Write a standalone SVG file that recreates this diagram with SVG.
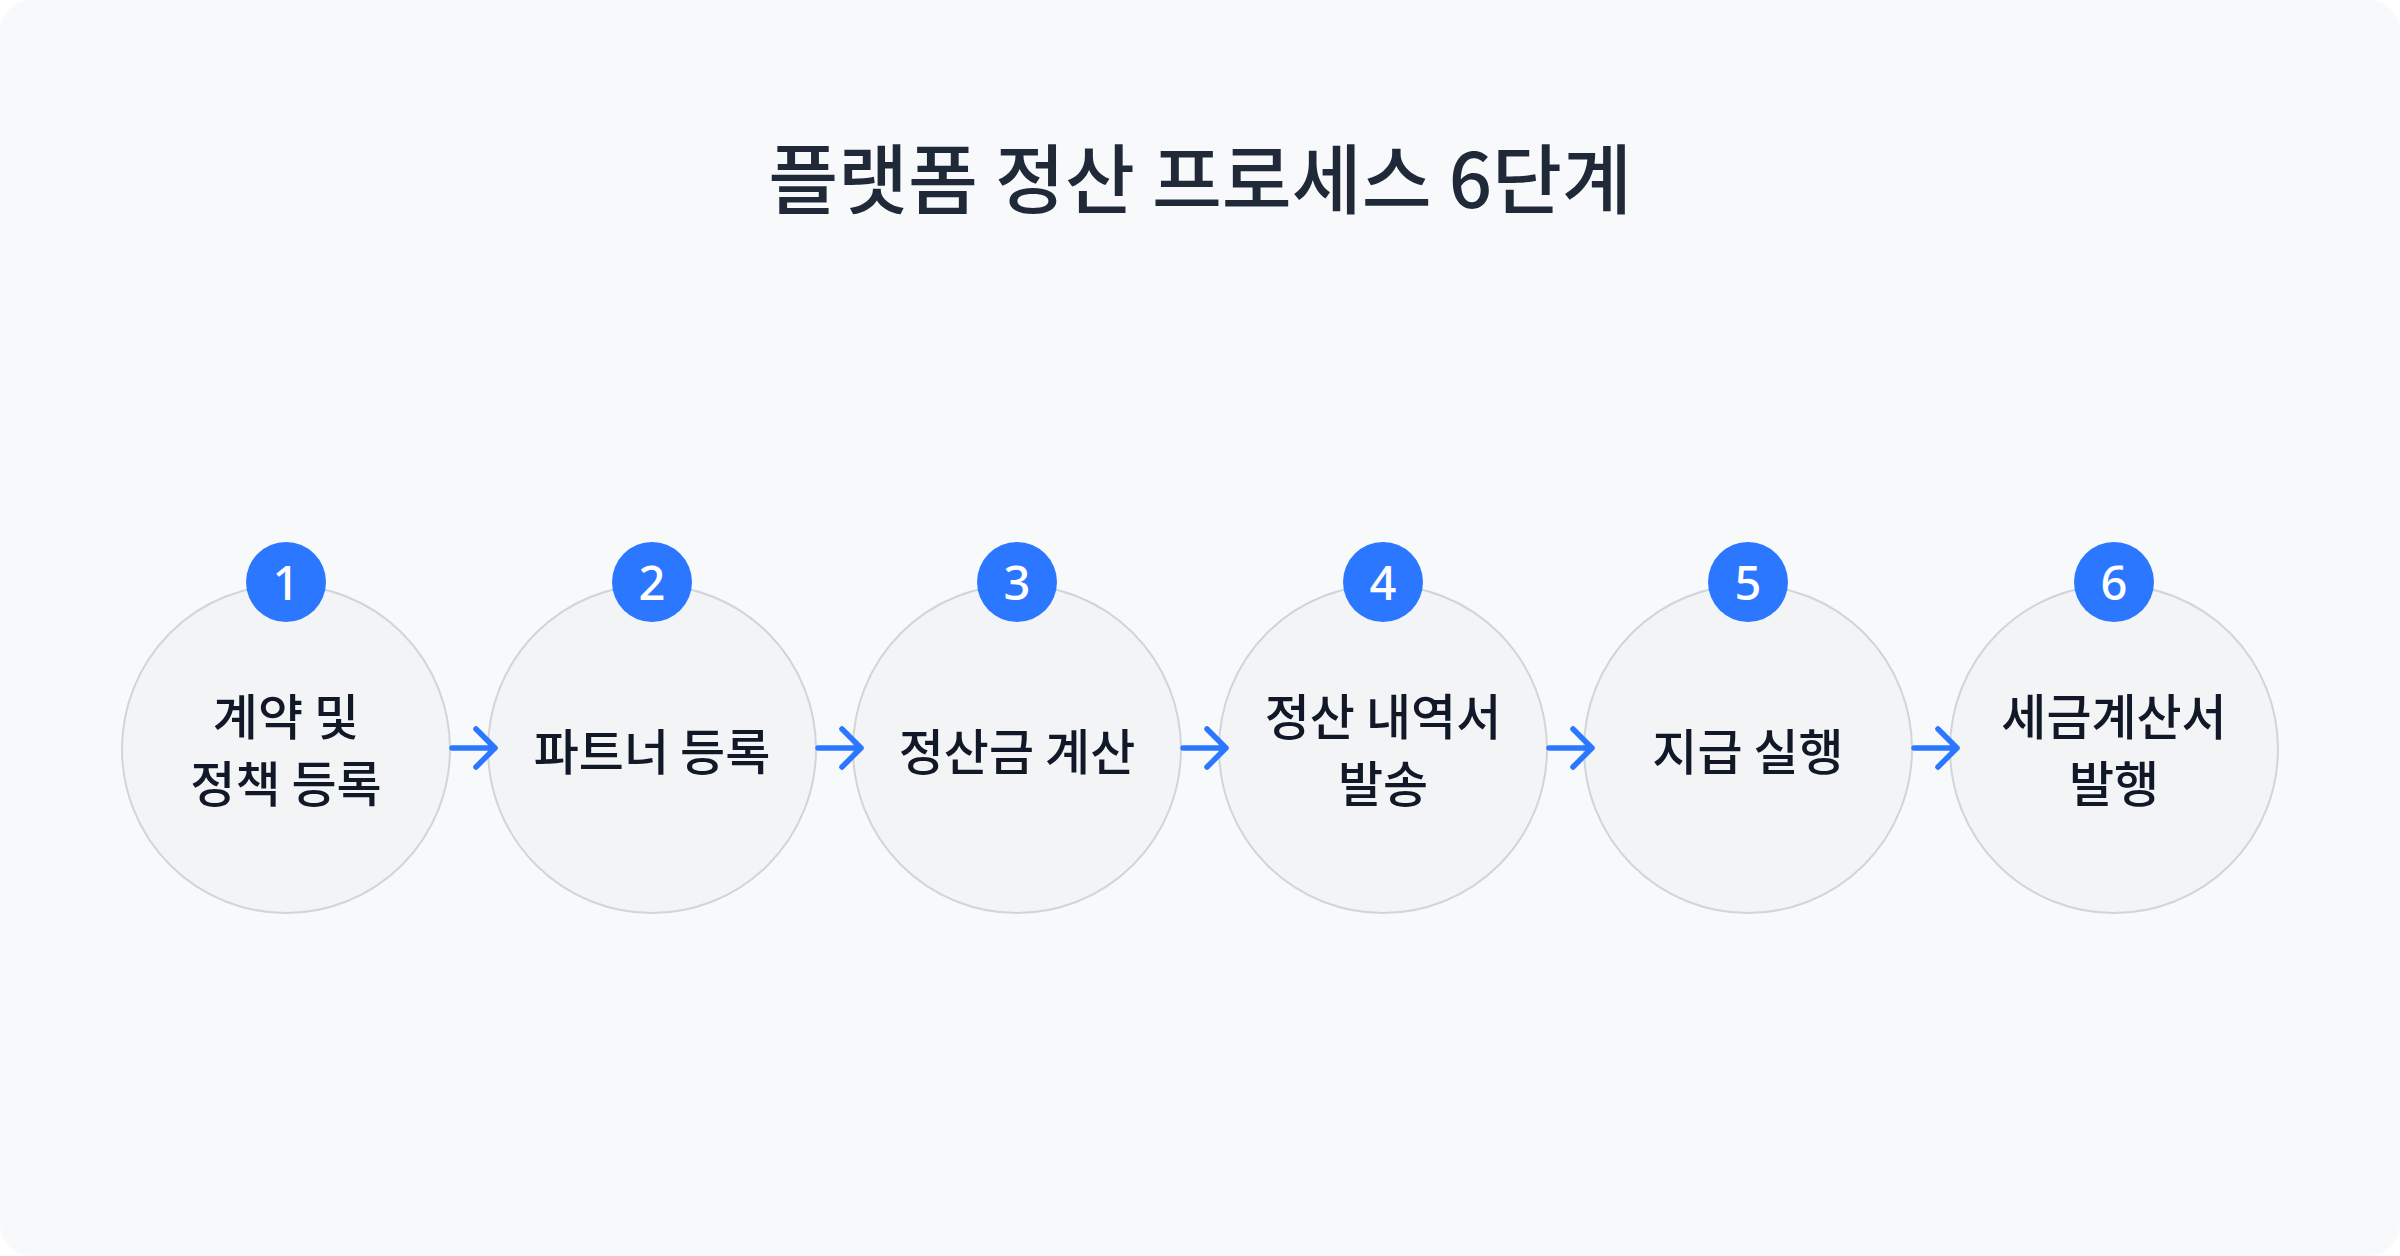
<svg xmlns="http://www.w3.org/2000/svg" width="2400" height="1256" viewBox="0 0 2400 1256">
<style>
.bg{fill:#f8f9fb}
.node{fill:#f3f4f6;stroke:#d1d5db;stroke-width:2}
.badge{fill:#2b77ff}
.bt{font-family:"Noto Sans","Noto Sans CJK KR",sans-serif;font-size:47px;font-weight:500;fill:#ffffff;text-anchor:middle;dominant-baseline:central}
.lbl{font-family:"Noto Sans CJK KR",sans-serif;font-size:49px;font-weight:500;fill:#111827;text-anchor:middle;dominant-baseline:central}
.title{font-family:"Noto Sans CJK KR",sans-serif;font-size:76px;font-weight:500;fill:#1f2937;text-anchor:middle;dominant-baseline:central}
.conn{fill:none;stroke:#2b77ff;stroke-width:5.5;stroke-linecap:round;stroke-linejoin:round}
</style>
<rect x="0" y="0" width="2400" height="1256" fill="#ffffff"/>
<rect class="bg" x="0" y="0" width="2400" height="1256" rx="32"/>
<text class="title" x="1200" y="175">플랫폼 정산 프로세스 6단계</text>
<g id="step1">
<circle class="node" cx="286" cy="749" r="164"/>
<circle class="badge" cx="286" cy="582" r="40"/>
<text class="bt" x="286" y="582">1</text>
<text class="lbl" x="286" y="713">계약 및</text>
<text class="lbl" x="286" y="780">정책 등록</text>
</g>
<g id="step2">
<circle class="node" cx="652" cy="749" r="164"/>
<circle class="badge" cx="652" cy="582" r="40"/>
<text class="bt" x="652" y="582">2</text>
<text class="lbl" x="652" y="748">파트너 등록</text>
</g>
<g id="step3">
<circle class="node" cx="1017" cy="749" r="164"/>
<circle class="badge" cx="1017" cy="582" r="40"/>
<text class="bt" x="1017" y="582">3</text>
<text class="lbl" x="1017" y="748">정산금 계산</text>
</g>
<g id="step4">
<circle class="node" cx="1383" cy="749" r="164"/>
<circle class="badge" cx="1383" cy="582" r="40"/>
<text class="bt" x="1383" y="582">4</text>
<text class="lbl" x="1383" y="713">정산 내역서</text>
<text class="lbl" x="1383" y="780">발송</text>
</g>
<g id="step5">
<circle class="node" cx="1748" cy="749" r="164"/>
<circle class="badge" cx="1748" cy="582" r="40"/>
<text class="bt" x="1748" y="582">5</text>
<text class="lbl" x="1748" y="748">지급 실행</text>
</g>
<g id="step6">
<circle class="node" cx="2114" cy="749" r="164"/>
<circle class="badge" cx="2114" cy="582" r="40"/>
<text class="bt" x="2114" y="582">6</text>
<text class="lbl" x="2114" y="713">세금계산서</text>
<text class="lbl" x="2114" y="780">발행</text>
</g>
<g id="connectors">
<path class="conn" d="M452 748H495M476 729L495 748L476 767"/>
<path class="conn" d="M818 748H861M842 729L861 748L842 767"/>
<path class="conn" d="M1183 748H1226M1207 729L1226 748L1207 767"/>
<path class="conn" d="M1549 748H1592M1573 729L1592 748L1573 767"/>
<path class="conn" d="M1914 748H1957M1938 729L1957 748L1938 767"/>
</g>
</svg>
